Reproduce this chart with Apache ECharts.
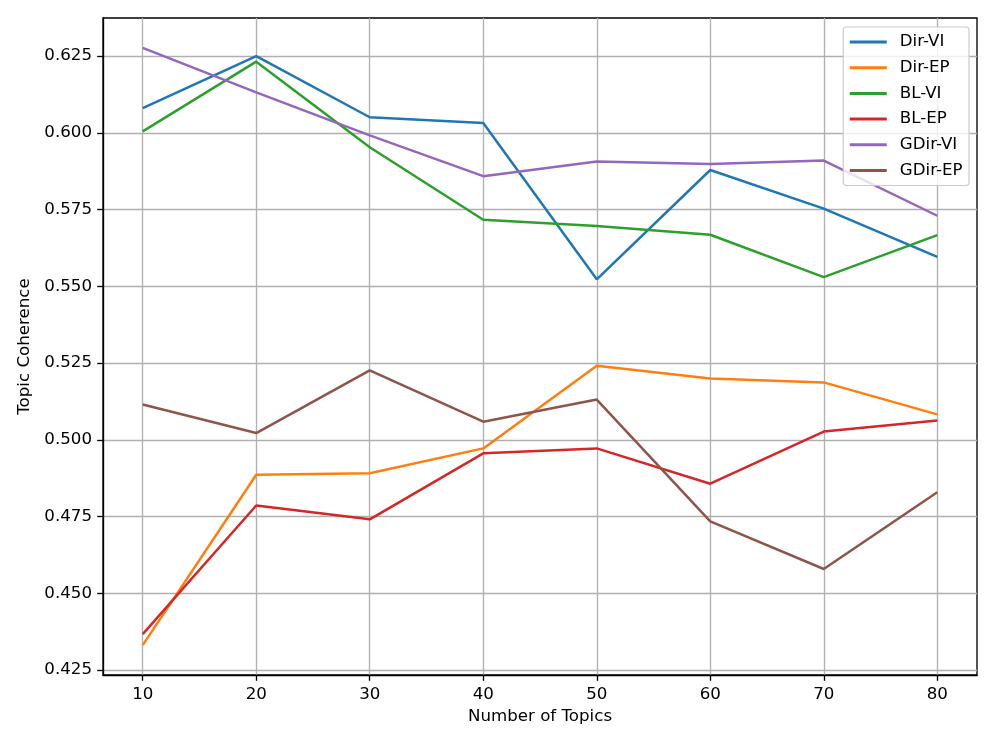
<!DOCTYPE html>
<html><head><meta charset="utf-8">
<script src="https://cdn.jsdelivr.net/npm/echarts@6/dist/echarts.min.js"></script>
<style>html,body{margin:0;padding:0;background:#fff}#c{width:996px;height:747px}</style>
</head><body><div id="c"></div>
<script>
const topics = [10, 20, 30, 40, 50, 60, 70, 80];
const xTicks = [10, 20, 30, 40, 50, 60, 70, 80];
const yTicks = [0.425, 0.450, 0.475, 0.500, 0.525, 0.550, 0.575, 0.600, 0.625];
const seriesNames = ['Dir-VI', 'Dir-EP', 'BL-VI', 'BL-EP', 'GDir-VI', 'GDir-EP'];
const dirVI  = [0.6081, 0.6250, 0.6051, 0.6032, 0.5523, 0.5879, 0.5753, 0.5596];
const dirEP  = [0.4331, 0.4886, 0.4891, 0.4972, 0.5241, 0.5200, 0.5187, 0.5083];
const blVI   = [0.6005, 0.6232, 0.5953, 0.5717, 0.5697, 0.5668, 0.5530, 0.5667];
const blEP   = [0.4367, 0.4786, 0.4741, 0.4956, 0.4972, 0.4857, 0.5027, 0.5063];
const gdirVI = [0.6277, 0.6132, 0.5992, 0.5859, 0.5907, 0.5899, 0.5910, 0.5730];
const gdirEP = [0.5115, 0.5022, 0.5226, 0.5059, 0.5131, 0.4734, 0.4579, 0.4829];
const allValues = [dirVI, dirEP, blVI, blEP, gdirVI, gdirEP];
const colors = ['#1f77b4', '#ff7f0e', '#2ca02c', '#d62728', '#9467bd', '#8c564b'];

// matplotlib-style 5% margins
const xMinD = Math.min(...topics), xMaxD = Math.max(...topics);
const flat = allValues.flat();
const yMinD = Math.min(...flat), yMaxD = Math.max(...flat);
const xm = (xMaxD - xMinD) * 0.05, ym = (yMaxD - yMinD) * 0.05;

const font = 'DejaVu Sans';
const fs = 16.67;
const chart = echarts.init(document.getElementById('c'), null, {renderer: 'canvas'});
chart.setOption({
  animation: false,
  backgroundColor: '#fff',
  textStyle: {fontFamily: font},
  grid: {left: 103, right: 19, top: 18, bottom: 72, show: true, borderColor: '#000', borderWidth: 1.33, containLabel: false},
  legend: {
    orient: 'vertical', right: 27, top: 27,
    data: seriesNames,
    icon: 'rect', itemWidth: 37, itemHeight: 3, itemGap: 8.7,
    textStyle: {fontFamily: font, fontSize: fs, lineHeight: 17, color: '#000', padding: [0, 0, 0, 8]},
    backgroundColor: 'rgba(255,255,255,0.8)', borderColor: '#cccccc', borderWidth: 1.2, borderRadius: 3,
    padding: [6.5, 6.5, 6.5, 6.5]
  },
  xAxis: {
    type: 'value', min: xMinD - xm, max: xMaxD + xm,
    name: 'Number of Topics', nameLocation: 'middle', nameGap: 32,
    nameTextStyle: {fontFamily: font, fontSize: fs, color: '#000'},
    axisLine: {show: true, onZero: false, lineStyle: {color: '#000', width: 1.33}},
    axisTick: {show: true, customValues: xTicks, length: 5.8, lineStyle: {color: '#000', width: 1.33}},
    axisLabel: {customValues: xTicks, fontFamily: font, fontSize: fs, color: '#000', margin: 11},
    splitLine: {show: true, lineStyle: {color: '#b0b0b0', width: 1.33}}
  },
  yAxis: {
    type: 'value', min: yMinD - ym, max: yMaxD + ym,
    name: 'Topic Coherence', nameLocation: 'middle', nameGap: 66,
    nameTextStyle: {fontFamily: font, fontSize: fs, color: '#000'},
    axisLine: {show: true, onZero: false, lineStyle: {color: '#000', width: 1.33}},
    axisTick: {show: true, customValues: yTicks, length: 5.8, lineStyle: {color: '#000', width: 1.33}},
    axisLabel: {customValues: yTicks, fontFamily: font, fontSize: fs, color: '#000', margin: 11,
      formatter: v => v.toFixed(3)},
    splitLine: {show: true, lineStyle: {color: '#b0b0b0', width: 1.33}}
  },
  series: seriesNames.map((n, i) => ({
    name: n, type: 'line', showSymbol: false, symbol: 'none',
    color: colors[i],
    lineStyle: {color: colors[i], width: 2.5},
    data: topics.map((t, j) => [t, allValues[i][j]])
  }))
});
</script></body></html>
